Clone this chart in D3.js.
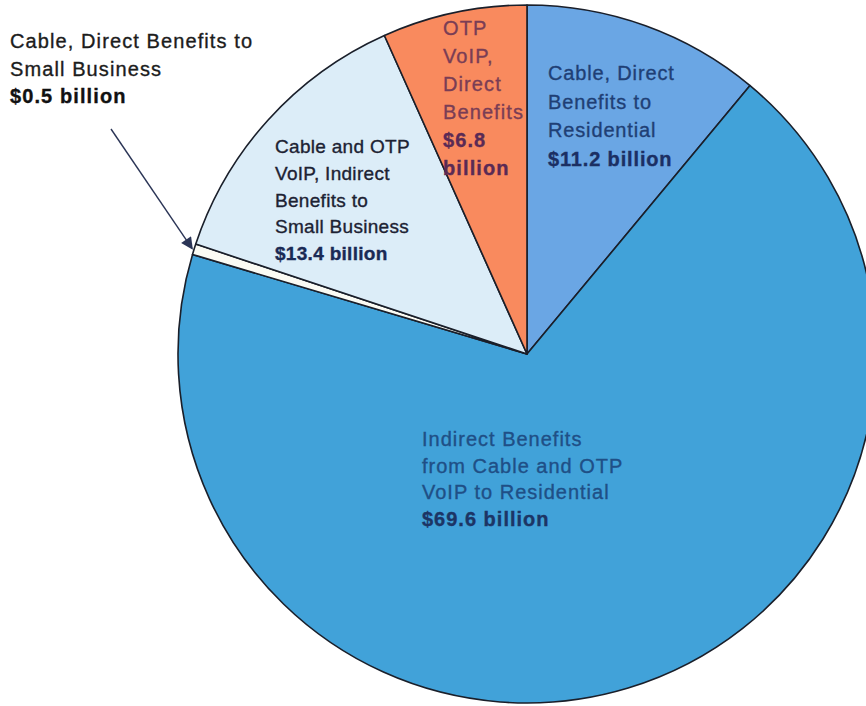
<!DOCTYPE html>
<html lang="en">
  <head>
    <meta charset="UTF-8" />
    <title>Benefits of Cable and OTP VoIP</title>
    <script src="https://d3js.org/d3.v7.min.js"></script>
    <style>
      body { margin: 0; background: #fff; }
      text { font-family: "Liberation Sans", Arial, sans-serif; }
    </style>
  </head>
  <body>
    <svg id="pie" width="866" height="706"></svg>

    <script>
      // slices, clockwise from 12 o'clock
      const categories = [
        "Cable, Direct Benefits to Residential",
        "Indirect Benefits from Cable and OTP VoIP to Residential",
        "Cable, Direct Benefits to Small Business",
        "Cable and OTP VoIP, Indirect Benefits to Small Business",
        "OTP VoIP, Direct Benefits",
      ];
      const values = [11.2, 69.6, 0.5, 13.4, 6.8];
      const labelLines = [
        ["Cable, Direct", "Benefits to", "Residential"],
        ["Indirect Benefits", "from Cable and OTP", "VoIP to Residential"],
        ["Cable, Direct Benefits to", "Small Business"],
        ["Cable and OTP", "VoIP, Indirect", "Benefits to", "Small Business"],
        ["OTP", "VoIP,", "Direct", "Benefits"],
      ];
      const valueLines = [
        ["$11.2 billion"],
        ["$69.6 billion"],
        ["$0.5 billion"],
        ["$13.4 billion"],
        ["$6.8", "billion"],
      ];

      const colors = ["#6aa6e4", "#41a2d9", "#fbfbf4", "#dcedf8", "#f98a5e"];

      // label placement and look
      const labelLayout = [
        { x: 548, y: 80, gap: 28.7, size: 20, ls: 0.85, fill: "#1f3f75", bold: "#1b2f63" },
        { x: 422, y: 446, gap: 26.7, size: 20, ls: 1.0, fill: "#1f4f86", bold: "#1c3565" },
        { x: 10, y: 48, gap: 27.5, size: 20, ls: 1.1, fill: "#1c1c1c", bold: "#111" },
        { x: 275, y: 153, gap: 26.8, size: 19, ls: 0.3, fill: "#1c2233", bold: "#1a2a55" },
        { x: 443, y: 35, gap: 28, size: 20, ls: 1.1, fill: "#7a3d55", bold: "#5a2a55" },
      ];

      const svg = d3.select("#pie");
      const cx = 527,
        cy = 354,
        radius = 349;

      const pie = d3.pie().sort(null).value((d) => d).startAngle(0).endAngle(2 * Math.PI);
      const arc = d3.arc().innerRadius(0).outerRadius(radius);

      const g = svg.append("g").attr("transform", `translate(${cx},${cy})`);

      g.selectAll("path")
        .data(pie(values))
        .enter()
        .append("path")
        .attr("d", arc)
        .attr("fill", (d, i) => colors[i])
        .attr("stroke", "#1a1f2a")
        .attr("stroke-width", 1.6)
        .attr("stroke-linejoin", "round");

      // labels
      labelLayout.forEach((lay, i) => {
        const t = svg
          .append("text")
          .attr("x", lay.x)
          .attr("y", lay.y)
          .style("font-size", lay.size + "px")
          .style("letter-spacing", lay.ls + "px");
        const lines = labelLines[i].concat(valueLines[i]);
        lines.forEach((line, j) => {
          const isValue = j >= labelLines[i].length;
          t.append("tspan")
            .attr("x", lay.x)
            .attr("y", lay.y + j * lay.gap)
            .attr("fill", isValue ? lay.bold : lay.fill)
            .attr("stroke", isValue ? lay.bold : lay.fill)
            .attr("stroke-width", 0.35)
            .style("font-weight", isValue ? "bold" : "normal")
            .text(line);
        });
      });

      // arrow pointing to the thin slice
      svg
        .append("defs")
        .append("marker")
        .attr("id", "head")
        .attr("viewBox", "0 0 10 10")
        .attr("refX", 9)
        .attr("refY", 5)
        .attr("markerWidth", 17)
        .attr("markerHeight", 12)
        .attr("markerUnits", "userSpaceOnUse")
        .attr("orient", "auto")
        .append("path")
        .attr("d", "M0,0 L10,5 L0,10 Z")
        .attr("fill", "#2b3556");

      const thin = pie(values)[2];
      const tipAngle = (thin.startAngle + thin.endAngle) / 2;
      const tip = [cx + Math.sin(tipAngle) * (radius + 2), cy - Math.cos(tipAngle) * (radius + 2)];

      svg
        .append("line")
        .attr("x1", 111)
        .attr("y1", 129)
        .attr("x2", tip[0])
        .attr("y2", tip[1])
        .attr("stroke", "#2b3556")
        .attr("stroke-width", 1.4)
        .attr("marker-end", "url(#head)");
    </script>
  </body>
</html>
